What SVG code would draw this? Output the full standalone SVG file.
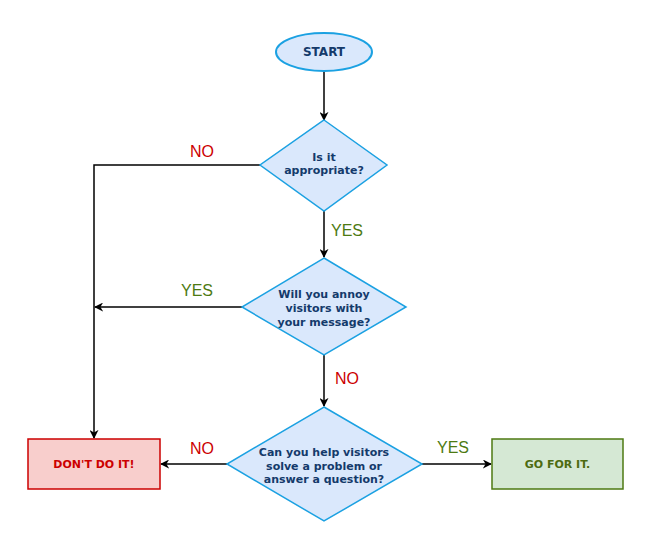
<svg xmlns="http://www.w3.org/2000/svg" width="650" height="549" viewBox="0 0 650 549">
<defs>
<style>
.dec{fill:#dae8fc;stroke:#1ba1e2;stroke-width:1.5}
.nt{font-family:"DejaVu Sans",Verdana,sans-serif;font-weight:bold;font-size:11px;fill:#143a6b;text-anchor:middle}
.lbl{font-family:"Liberation Sans",Arial,sans-serif;font-size:16px;text-anchor:middle}
.no{fill:#cc0000}
.yes{fill:#4d7a12}
.edge{fill:none;stroke:#000;stroke-width:1.5;marker-end:url(#arr)}
</style>
<marker id="arr" viewBox="0 0 10 10" refX="9" refY="5" markerWidth="9" markerHeight="9" markerUnits="userSpaceOnUse" orient="auto">
<path d="M0,0 L10,5 L0,10 L3,5 Z" fill="#000"/>
</marker>
</defs>
<rect width="650" height="549" fill="#fff"/>
<g id="connectors">
<path class="edge" d="M324,72 V120"/>
<path class="edge" d="M260,165 H94 V438"/>
<path class="edge" d="M324,211 V257"/>
<path class="edge" d="M242,307 H95"/>
<path class="edge" d="M324,355 V406"/>
<path class="edge" d="M227,464 H161"/>
<path class="edge" d="M422,464 H491"/>
</g>
<g id="labels">
<text class="lbl no" x="202" y="157">NO</text>
<text class="lbl yes" x="347" y="236">YES</text>
<text class="lbl yes" x="197" y="296">YES</text>
<text class="lbl no" x="347" y="384">NO</text>
<text class="lbl no" x="202" y="454">NO</text>
<text class="lbl yes" x="453" y="453">YES</text>
</g>
<g id="start">
<ellipse cx="324" cy="52" rx="48" ry="19" class="dec" style="stroke-width:2"/>
<text class="nt" x="324" y="56" style="font-size:12px">START</text>
</g>
<g id="appropriate">
<polygon class="dec" points="324,120 387,165 324,211 260,165"/>
<text class="nt" x="324" y="161">Is it</text>
<text class="nt" x="324" y="174">appropriate?</text>
</g>
<g id="annoy">
<polygon class="dec" points="324,258 406,307 324,355 242,307"/>
<text class="nt" x="324" y="298">Will you annoy</text>
<text class="nt" x="324" y="312">visitors with</text>
<text class="nt" x="324" y="326">your message?</text>
</g>
<g id="help">
<polygon class="dec" points="324,407 422,464 324,521 227,464"/>
<text class="nt" x="324" y="456">Can you help visitors</text>
<text class="nt" x="324" y="469.5">solve a problem or</text>
<text class="nt" x="324" y="483">answer a question?</text>
</g>
<g id="dont">
<rect x="28" y="439" width="132" height="50" fill="#f8cecc" stroke="#cc0000" stroke-width="1.5"/>
<text class="nt" x="94" y="468" style="fill:#cc0000">DON'T DO IT!</text>
</g>
<g id="go">
<rect x="492" y="439" width="131" height="50" fill="#d5e8d4" stroke="#4d7a12" stroke-width="1.5"/>
<text class="nt" x="557.5" y="468" style="fill:#4d6b10">GO FOR IT.</text>
</g>
</svg>
